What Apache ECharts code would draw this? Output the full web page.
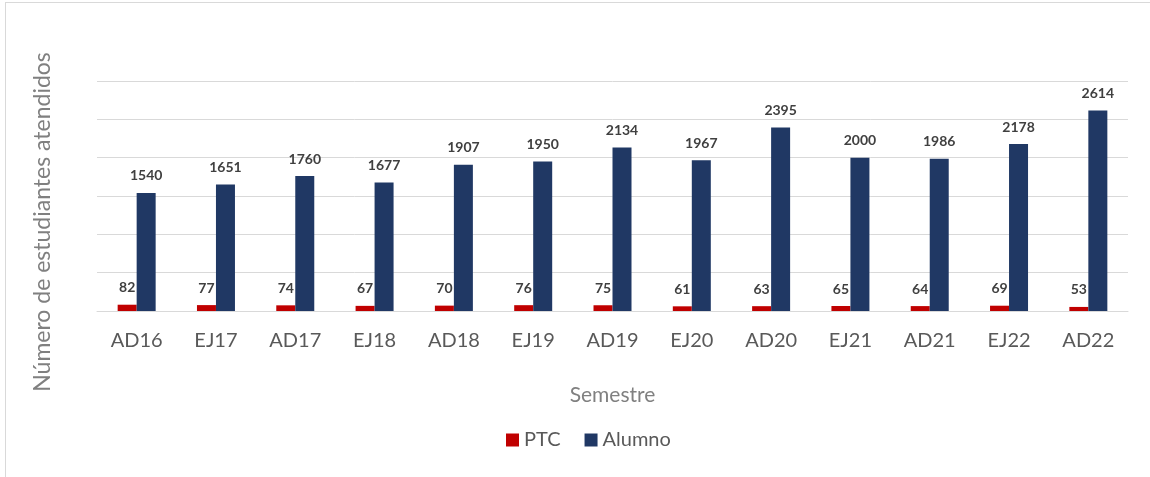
<!DOCTYPE html>
<html><head><meta charset="utf-8">
<script src="https://cdn.jsdelivr.net/npm/echarts@6/dist/echarts.min.js"></script>
<style>
html,body{margin:0;padding:0;background:#fff;}
#frame{position:absolute;left:5px;top:2px;width:1150px;height:480px;border-left:1px solid #d9d9d9;border-top:1px solid #d9d9d9;}
#c{position:absolute;left:0;top:0;width:1150px;height:477px;}
</style></head>
<body>
<div id="frame"></div>
<div id="c"></div>
<script>
var categories = ['AD16','EJ17','AD17','EJ18','AD18','EJ19','AD19','EJ20','AD20','EJ21','AD21','EJ22','AD22'];
var ptc = [82,77,74,67,70,76,75,61,63,65,64,69,53];
var alumno = [1540,1651,1760,1677,1907,1950,2134,1967,2395,2000,1986,2178,2614];

var font = 'Lato';
var lbl = {show:true, position:'top', distance:10, color:'#404040', fontWeight:'bold', fontSize:14, fontFamily:font};
var chart = echarts.init(document.getElementById('c'));
chart.setOption({
  animation:false,
  textStyle:{fontFamily:font},
  grid:{left:97, right:22, top:81, bottom:166},
  legend:{bottom:22, left:501, itemWidth:13, itemHeight:13, itemGap:24,
    textStyle:{fontSize:20, color:'#595959', fontFamily:font},
    data:[{name:'PTC', icon:'rect'},{name:'Alumno', icon:'rect'}]},
  xAxis:{type:'category', data:categories,
    axisLine:{lineStyle:{color:'#d9d9d9'}}, axisTick:{show:false},
    axisLabel:{fontSize:20, color:'#595959', margin:20, fontFamily:font},
    name:'Semestre', nameLocation:'middle', nameGap:74,
    nameTextStyle:{fontSize:21, color:'#808080', fontFamily:font}},
  yAxis:{type:'value', min:0, max:3000, interval:500,
    axisLabel:{show:false}, axisLine:{show:false}, axisTick:{show:false},
    splitLine:{lineStyle:{color:'#d9d9d9'}},
    name:'Número de estudiantes atendidos', nameLocation:'middle', nameGap:43,
    nameTextStyle:{fontSize:23, color:'#808080', fontFamily:font, padding:[0,52,0,0]}},
  series:[
    {name:'PTC', type:'bar', data:ptc, barWidth:19, barGap:'0%', itemStyle:{color:'#c00000'}, label:lbl},
    {name:'Alumno', type:'bar', data:alumno, barWidth:19, itemStyle:{color:'#203864'}, label:lbl}
  ]
});
</script>
</body></html>
